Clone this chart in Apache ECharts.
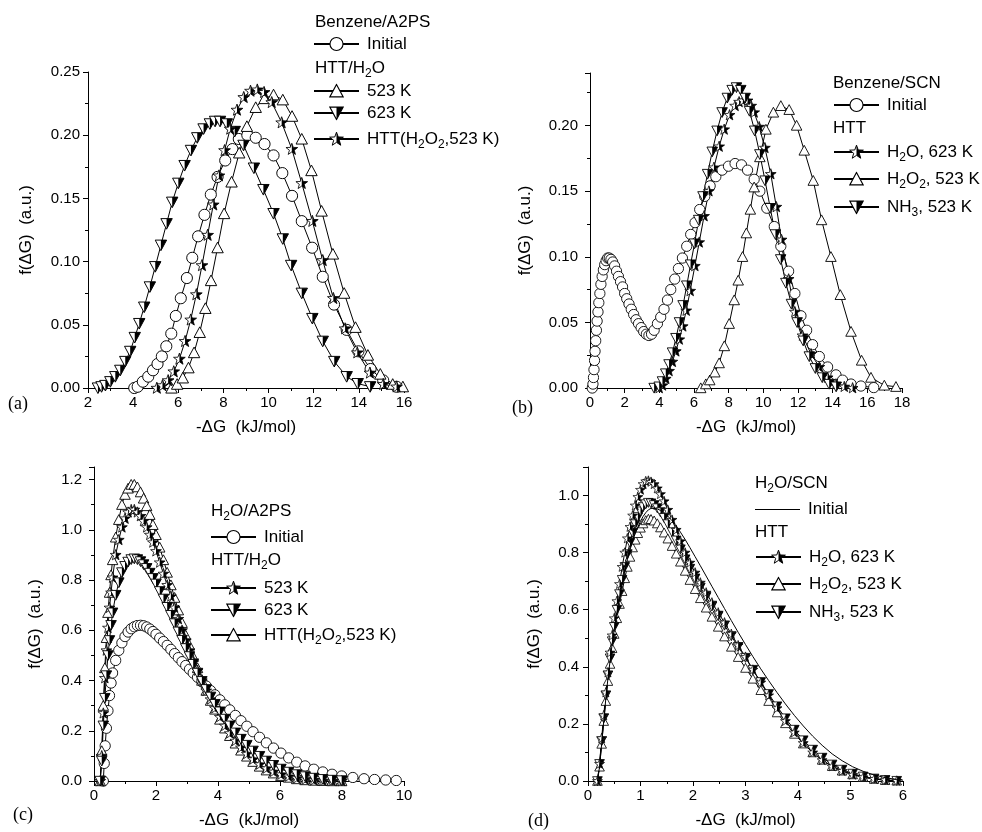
<!DOCTYPE html>
<html><head><meta charset="utf-8">
<script src="https://cdn.jsdelivr.net/npm/echarts@6.0.0/dist/echarts.min.js"></script>
<style>html,body{margin:0;padding:0;background:#fff}#c{width:982px;height:832px}</style>
</head><body><div id="c"></div>
<script>
// ---------- Panel (a): Benzene/A2PS ----------
const aInitialX = [4.05,4.20,4.43,4.67,4.88,5.08,5.27,5.47,5.69,5.89,6.11,6.38,6.62,6.88,7.16,7.44,7.74,8.08,8.40,8.68,9.06,9.43,9.82,10.22,10.61,11.04,11.47,11.93,12.40,12.90,13.46,13.98,14.52,15.08,15.67];
const aInitialY = [0.000,0.001,0.005,0.009,0.014,0.019,0.025,0.033,0.043,0.057,0.071,0.087,0.103,0.120,0.137,0.153,0.167,0.180,0.189,0.197,0.200,0.198,0.193,0.184,0.170,0.152,0.132,0.111,0.088,0.066,0.046,0.029,0.015,0.006,0.001];
const a523X = [5.70,5.95,6.20,6.45,6.70,6.95,7.20,7.45,7.74,8.03,8.36,8.70,9.04,9.43,9.82,10.22,10.63,11.04,11.47,11.90,12.35,12.85,13.35,13.85,14.40,14.95,15.50,15.95];
const a523Y = [0.000,0.003,0.008,0.016,0.028,0.044,0.063,0.085,0.111,0.138,0.163,0.186,0.207,0.222,0.229,0.232,0.228,0.215,0.197,0.172,0.140,0.106,0.075,0.048,0.026,0.011,0.003,0.001];
const a623X = [2.44,2.60,2.77,2.99,3.21,3.43,3.65,3.87,4.07,4.27,4.49,4.74,4.98,5.23,5.48,5.73,6.00,6.28,6.56,6.84,7.12,7.40,7.63,7.85,8.15,8.50,8.89,9.35,9.77,10.22,10.63,11.00,11.47,11.94,12.40,12.91,13.46,13.95,14.50];
const a623Y = [0.000,0.001,0.002,0.005,0.009,0.014,0.021,0.029,0.040,0.051,0.064,0.080,0.096,0.113,0.130,0.147,0.162,0.176,0.188,0.198,0.205,0.209,0.211,0.211,0.209,0.203,0.192,0.174,0.157,0.138,0.118,0.097,0.075,0.055,0.037,0.021,0.009,0.0035,0.001];
const aHttX = [5.05,5.30,5.55,5.80,6.05,6.30,6.55,6.80,7.05,7.30,7.55,7.80,8.05,8.30,8.60,8.90,9.20,9.50,9.80,10.14,10.58,11.03,11.47,11.94,12.40,12.87,13.39,13.93,14.49,15.08,15.67];
const aHttY = [0.000,0.002,0.006,0.013,0.023,0.037,0.054,0.074,0.097,0.121,0.145,0.168,0.188,0.205,0.220,0.230,0.235,0.236,0.234,0.226,0.210,0.189,0.162,0.132,0.101,0.071,0.047,0.028,0.012,0.003,0.001];

// ---------- Panel (b): Benzene/SCN ----------
const bInitialX = [0.13,0.17,0.20,0.23,0.26,0.29,0.33,0.37,0.41,0.46,0.51,0.57,0.63,0.70,0.77,0.85,0.93,1.02,1.11,1.21,1.31,1.42,1.53,1.64,1.76,1.88,2.00,2.12,2.25,2.38,2.52,2.66,2.80,2.95,3.10,3.25,3.40,3.55,3.70,3.89,4.08,4.27,4.47,4.66,4.89,5.10,5.33,5.58,5.81,6.06,6.33,6.62,6.93,7.26,7.62,7.99,8.37,8.74,9.09,9.47,9.80,10.20,10.63,11.01,11.46,11.82,12.17,12.50,12.84,13.23,13.71,14.19,14.57,15.06,15.63,16.37];
const bInitialY = [0.000,0.003,0.008,0.014,0.021,0.028,0.036,0.044,0.051,0.058,0.065,0.072,0.079,0.085,0.090,0.094,0.097,0.099,0.099,0.098,0.096,0.093,0.089,0.085,0.081,0.077,0.072,0.068,0.064,0.060,0.056,0.052,0.049,0.046,0.043,0.041,0.040,0.041,0.044,0.049,0.054,0.060,0.067,0.075,0.083,0.091,0.099,0.108,0.117,0.126,0.136,0.146,0.154,0.161,0.166,0.169,0.171,0.170,0.166,0.159,0.150,0.137,0.123,0.108,0.089,0.072,0.055,0.044,0.033,0.024,0.016,0.010,0.006,0.003,0.0015,0.0003];
const bH2OX = [3.99,4.18,4.37,4.56,4.75,4.95,5.15,5.35,5.55,5.78,6.05,6.30,6.58,6.86,7.15,7.45,7.74,8.05,8.37,8.60,8.82,9.09,9.30,9.47,9.76,10.09,10.43,10.75,11.05,11.46,11.82,12.26,12.75,13.23,13.71,14.19,14.67,15.15];
const bH2OY = [0.000,0.002,0.007,0.013,0.020,0.028,0.037,0.047,0.059,0.074,0.093,0.111,0.131,0.150,0.168,0.184,0.197,0.208,0.215,0.218,0.219,0.219,0.215,0.210,0.199,0.183,0.163,0.138,0.113,0.083,0.058,0.040,0.026,0.016,0.008,0.003,0.001,0.000];
const bH2O2X = [6.39,6.68,6.91,7.20,7.45,7.75,8.03,8.32,8.55,8.80,9.02,9.25,9.47,9.80,10.15,10.58,11.01,11.49,11.92,12.36,12.88,13.36,13.90,14.44,15.06,15.67,16.21,16.98,17.65];
const bH2O2Y = [0.000,0.003,0.006,0.012,0.019,0.032,0.049,0.067,0.082,0.100,0.118,0.136,0.153,0.176,0.197,0.210,0.215,0.212,0.200,0.181,0.158,0.128,0.100,0.071,0.043,0.021,0.008,0.002,0.001];
const bNH3X = [3.70,3.99,4.18,4.37,4.56,4.76,4.96,5.16,5.37,5.58,5.80,6.03,6.27,6.52,6.78,7.05,7.33,7.62,7.92,8.20,8.45,8.70,8.95,9.20,9.50,9.80,10.10,10.40,10.70,11.00,11.30,11.62,11.95,12.30,12.65,13.00,13.40,13.80,14.20];
const bNH3Y = [0.000,0.001,0.005,0.011,0.018,0.027,0.038,0.050,0.063,0.078,0.094,0.110,0.128,0.146,0.163,0.180,0.196,0.210,0.221,0.227,0.229,0.227,0.221,0.211,0.196,0.178,0.158,0.137,0.117,0.098,0.080,0.064,0.050,0.036,0.024,0.015,0.008,0.003,0.001];

// ---------- Panel (c): H2O/A2PS ----------
const cInitialX = [0.30,0.33,0.36,0.40,0.45,0.50,0.55,0.60,0.70,0.80,0.90,1.00,1.10,1.20,1.30,1.40,1.50,1.60,1.70,1.80,1.90,2.00,2.12,2.24,2.36,2.48,2.60,2.72,2.84,2.96,3.08,3.20,3.34,3.48,3.62,3.76,3.90,4.06,4.22,4.38,4.56,4.74,4.93,5.13,5.34,5.56,5.79,6.03,6.28,6.54,6.81,7.09,7.38,7.68,7.99,8.35,8.71,9.05,9.41,9.75];
const cInitialY = [0.000,0.07,0.14,0.21,0.28,0.34,0.39,0.43,0.48,0.52,0.55,0.575,0.593,0.606,0.614,0.619,0.620,0.618,0.613,0.605,0.595,0.584,0.569,0.555,0.540,0.524,0.507,0.491,0.475,0.460,0.445,0.430,0.413,0.395,0.378,0.360,0.343,0.323,0.303,0.283,0.261,0.240,0.218,0.196,0.174,0.152,0.131,0.111,0.092,0.075,0.060,0.047,0.036,0.027,0.020,0.014,0.009,0.006,0.004,0.002];
const cX = [0.20,0.25,0.30,0.35,0.40,0.45,0.50,0.55,0.60,0.70,0.80,0.90,1.00,1.10,1.20,1.30,1.40,1.50,1.60,1.70,1.80,1.90,2.00,2.12,2.24,2.36,2.48,2.60,2.72,2.84,2.96,3.08,3.20,3.34,3.48,3.62,3.76,3.90,4.06,4.22,4.38,4.56,4.74,4.93,5.13,5.34,5.56,5.79,6.03,6.28,6.54,6.81,7.09,7.38,7.68,7.99];
const c523Y = [0,0.10,0.27,0.41,0.52,0.61,0.69,0.75,0.81,0.90,0.96,1.01,1.045,1.07,1.08,1.08,1.07,1.055,1.035,1.01,0.98,0.95,0.915,0.87,0.825,0.78,0.735,0.69,0.645,0.60,0.56,0.52,0.48,0.44,0.40,0.36,0.325,0.29,0.255,0.22,0.19,0.16,0.133,0.108,0.086,0.066,0.05,0.037,0.026,0.018,0.011,0.006,0.003,0.001,0.0005,0];
const c623Y = [0,0.08,0.22,0.33,0.42,0.50,0.56,0.62,0.67,0.74,0.79,0.83,0.855,0.872,0.882,0.885,0.882,0.874,0.862,0.847,0.828,0.807,0.785,0.755,0.725,0.692,0.66,0.627,0.594,0.561,0.528,0.496,0.465,0.43,0.397,0.365,0.335,0.306,0.276,0.247,0.22,0.192,0.167,0.143,0.12,0.099,0.08,0.063,0.048,0.036,0.026,0.018,0.012,0.007,0.004,0.002];
const cHttY = [0,0.12,0.30,0.45,0.57,0.67,0.75,0.82,0.88,0.97,1.04,1.10,1.14,1.165,1.18,1.18,1.17,1.15,1.125,1.095,1.06,1.02,0.98,0.93,0.88,0.83,0.78,0.73,0.68,0.63,0.58,0.54,0.495,0.45,0.40,0.36,0.32,0.285,0.245,0.21,0.18,0.15,0.122,0.098,0.077,0.058,0.043,0.031,0.021,0.014,0.008,0.004,0.002,0.001,0,0];

// ---------- Panel (d): H2O/SCN ----------
const dX = [0.18,0.22,0.26,0.30,0.34,0.38,0.42,0.46,0.50,0.55,0.60,0.65,0.70,0.75,0.80,0.85,0.90,0.95,1.00,1.05,1.10,1.15,1.20,1.26,1.32,1.38,1.45,1.52,1.60,1.68,1.76,1.85,1.94,2.04,2.14,2.25,2.36,2.48,2.60,2.73,2.86,3.00,3.14,3.29,3.44,3.60,3.76,3.93,4.10,4.28,4.46,4.65,4.84,5.04,5.24,5.45,5.66,5.88];
const dInitialX = [0.18,0.22,0.26,0.30,0.34,0.38,0.42,0.46,0.50,0.55,0.60,0.65,0.70,0.75,0.80,0.85,0.90,0.95,1.00,1.05,1.10,1.15,1.20,1.26,1.32,1.38,1.45,1.52,1.60,1.68,1.76,1.85,1.94,2.04,2.14,2.25,2.36,2.48,2.60,2.73,2.86,3.00,3.14,3.29,3.44,3.60,3.76,3.93,4.10,4.28,4.46,4.65,4.84,5.04,5.24,5.45,5.66,5.88,6.00];
const dInitialY = [0,0.05,0.13,0.21,0.29,0.36,0.42,0.48,0.53,0.59,0.64,0.69,0.735,0.775,0.81,0.84,0.868,0.89,0.91,0.927,0.94,0.95,0.955,0.955,0.953,0.948,0.94,0.928,0.912,0.893,0.872,0.846,0.818,0.786,0.754,0.718,0.682,0.643,0.604,0.562,0.521,0.478,0.436,0.393,0.352,0.31,0.27,0.23,0.193,0.157,0.125,0.095,0.071,0.05,0.034,0.021,0.012,0.005,0.003];
const dH2OY = [0,0.06,0.15,0.23,0.31,0.38,0.45,0.51,0.57,0.63,0.69,0.75,0.80,0.85,0.89,0.93,0.965,0.995,1.02,1.04,1.05,1.052,1.048,1.04,1.025,1.005,0.98,0.95,0.915,0.88,0.84,0.80,0.765,0.73,0.695,0.66,0.625,0.59,0.555,0.515,0.475,0.435,0.39,0.345,0.30,0.255,0.21,0.17,0.133,0.10,0.073,0.051,0.035,0.022,0.013,0.007,0.003,0.001];
const dH2O2Y = [0,0.05,0.13,0.21,0.28,0.35,0.41,0.465,0.515,0.57,0.62,0.665,0.71,0.75,0.785,0.818,0.845,0.868,0.887,0.902,0.913,0.918,0.917,0.912,0.902,0.888,0.87,0.849,0.823,0.796,0.768,0.736,0.704,0.672,0.64,0.607,0.575,0.54,0.506,0.47,0.434,0.396,0.358,0.318,0.28,0.24,0.202,0.165,0.131,0.10,0.074,0.052,0.036,0.023,0.014,0.007,0.003,0.001];
const dNH3Y = [0,0.06,0.14,0.22,0.30,0.37,0.43,0.49,0.54,0.60,0.655,0.705,0.75,0.795,0.835,0.87,0.90,0.925,0.945,0.96,0.97,0.975,0.973,0.967,0.956,0.942,0.922,0.90,0.872,0.843,0.812,0.777,0.744,0.71,0.678,0.645,0.612,0.578,0.545,0.508,0.47,0.432,0.39,0.347,0.305,0.262,0.22,0.18,0.143,0.11,0.082,0.058,0.04,0.026,0.016,0.009,0.004,0.001];

// ---------- text ----------
const xAxisTitle = '-ΔG  (kJ/mol)';
const yAxisTitle = 'f(ΔG)  (a.u.)';
const panelLabels = ['(a)', '(b)', '(c)', '(d)'];
const LABELS = {
  'a-Initial':'{f|Initial}', 'a-523':'{f|523 K}', 'a-623':'{f|623 K}', 'a-HTT':'{f|HTT(H}{s|2}{n|O}{s|2}{n|,523 K)}',
  'b-Initial':'{f|Initial}', 'b-H2O':'{f|H}{s|2}{n|O, 623 K}', 'b-H2O2':'{f|H}{s|2}{n|O}{s|2}{n|, 523 K}', 'b-NH3':'{f|NH}{s|3}{n|, 523 K}',
  'c-Initial':'{f|Initial}', 'c-523':'{f|523 K}', 'c-623':'{f|623 K}', 'c-HTT':'{f|HTT(H}{s|2}{n|O}{s|2}{n|,523 K)}',
  'd-Initial':'{f|Initial}', 'd-H2O':'{f|H}{s|2}{n|O, 623 K}', 'd-H2O2':'{f|H}{s|2}{n|O}{s|2}{n|, 523 K}', 'd-NH3':'{f|NH}{s|3}{n|, 523 K}'
};

const FONT = '"Liberation Sans", Arial, sans-serif';
const RICH = {
  n: {fontSize:17, fontFamily:FONT, color:'#000', lineHeight:19},
  f: {fontSize:17, fontFamily:FONT, color:'#000', lineHeight:19, padding:[0,0,0,3]},
  s: {fontSize:12, fontFamily:FONT, color:'#000', lineHeight:19, padding:[11,0,0,0]}
};

function svgSym(inner){
  return 'image://data:image/svg+xml;charset=utf-8,' + encodeURIComponent(
    "<svg xmlns='http://www.w3.org/2000/svg' width='40' height='40' viewBox='0 0 20 20'>" + inner + "</svg>");
}
const SYM = {
  circle: svgSym("<circle cx='10' cy='10' r='8.6' fill='white' stroke='black' stroke-width='1.5'/>"),
  up: svgSym("<polygon points='10,1.5 18.8,17.8 1.2,17.8' fill='white' stroke='black' stroke-width='1.5'/>"),
  down: svgSym("<polygon points='1.2,2.2 18.8,2.2 10,18.5' fill='white' stroke='black' stroke-width='1.5'/><polygon points='10,2.2 18.8,2.2 10,18.5' fill='black'/>"),
  star: svgSym("<polygon points='10,1 12.29,7.34 19.04,7.56 13.71,11.71 15.58,18.19 10,14.4 4.42,18.19 6.29,11.71 0.96,7.56 7.71,7.34' fill='white' stroke='black' stroke-width='1.3'/><polygon points='10,1 12.29,7.34 19.04,7.56 13.71,11.71 15.58,18.19 10,14.4' fill='black'/>")
};

function zip(xs, ys){ return xs.map((x,i)=>[x, ys[i]]); }
function ser(name, gi, xs, ys, sym, size, z){
  return {type:'line', name, xAxisIndex:gi, yAxisIndex:gi, data:zip(xs,ys),
    symbol:sym, symbolSize:size, showSymbol:sym!=='none', showAllSymbol:true, smooth:false,
    color:'#000', lineStyle:{color:'#000', width:1}, itemStyle:{color:'#000'},
    silent:true, animation:false, z:z||2};
}

const grids = [
  {left:88, top:72, width:316, height:316},
  {left:590, top:73, width:312, height:315},
  {left:94, top:467, width:310, height:314},
  {left:588, top:467, width:315, height:314}
];
const xCfg = [
  {min:2, max:16, interval:2}, {min:0, max:18, interval:2},
  {min:0, max:10, interval:2}, {min:0, max:6, interval:1}
];
const yCfg = [
  {min:0, max:0.25, interval:0.05, dec:2, margin:8, gap:53, showMax:true},
  {min:0, max:0.24, interval:0.05, dec:2, margin:12, gap:56, showMax:false},
  {min:0, max:1.25, interval:0.2, dec:1, margin:12, gap:50, showMax:false},
  {min:0, max:1.1, interval:0.2, dec:1, margin:9, gap:45, showMax:false}
];
const AX_LINE = {onZero:false, lineStyle:{color:'#000', width:1}};
const AX_TICK = {show:true, inside:false, length:5, lineStyle:{color:'#000', width:1}};
const MINOR = {show:true, splitNumber:2, length:3, lineStyle:{color:'#000', width:1}};
const NAME_STYLE = {fontSize:17, fontFamily:FONT, color:'#000'};

const xAxes = xCfg.map((c,i)=>({type:'value', gridIndex:i, min:c.min, max:c.max, interval:c.interval,
  name:xAxisTitle, nameLocation:'middle', nameGap:31, nameTextStyle:NAME_STYLE,
  axisLine:AX_LINE, axisTick:AX_TICK, minorTick:MINOR, splitLine:{show:false},
  axisLabel:{fontSize:15, fontFamily:FONT, color:'#000', margin:7}}));
const yAxes = yCfg.map((c,i)=>({type:'value', gridIndex:i, min:c.min, max:c.max, interval:c.interval,
  name:yAxisTitle, nameLocation:'middle', nameRotate:90, nameGap:c.gap, nameTextStyle:NAME_STYLE,
  axisLine:AX_LINE, axisTick:AX_TICK, minorTick:MINOR, splitLine:{show:false},
  axisLabel:{fontSize:15, fontFamily:FONT, color:'#000', margin:c.margin, showMaxLabel:c.showMax,
    formatter:v=>v.toFixed(c.dec)}}));

const series = [
  ser('a-Initial',0,aInitialX,aInitialY,SYM.circle,13),
  ser('a-523',0,a523X,a523Y,SYM.up,13),
  ser('a-623',0,a623X,a623Y,SYM.down,13),
  ser('a-HTT',0,aHttX,aHttY,SYM.star,13),
  ser('b-Initial',1,bInitialX,bInitialY,SYM.circle,12),
  ser('b-H2O',1,bH2OX,bH2OY,SYM.star,12),
  ser('b-H2O2',1,bH2O2X,bH2O2Y,SYM.up,12),
  ser('b-NH3',1,bNH3X,bNH3Y,SYM.down,12),
  ser('c-Initial',2,cInitialX,cInitialY,SYM.circle,12),
  ser('c-HTT',2,cX,cHttY,SYM.up,12),
  ser('c-523',2,cX,c523Y,SYM.star,12),
  ser('c-623',2,cX,c623Y,SYM.down,12),
  ser('d-H2O2',3,dX,dH2O2Y,SYM.up,11),
  ser('d-NH3',3,dX,dNH3Y,SYM.down,11),
  ser('d-H2O',3,dX,dH2OY,SYM.star,11),
  ser('d-Initial',3,dInitialX,dInitialY,'none',0,5)
];

function leg(name, left, cy, lineOnly){
  const h = lineOnly ? 1 : 19;
  return {data:[lineOnly ? {name, icon:'rect'} : name], left, top: lineOnly ? cy - 9 : cy - 9.5, orient:'vertical', padding:0,
    itemWidth:45, itemHeight:h, itemGap:0, selectedMode:false,
    formatter: n => LABELS[n], textStyle:{fontSize:17, fontFamily:FONT, color:'#000', rich:RICH}};
}
const legends = [
  leg('a-Initial',313,45), leg('a-523',313,92), leg('a-623',313,114), leg('a-HTT',313,137),
  leg('b-Initial',833,106), leg('b-H2O',833,150), leg('b-H2O2',833,177), leg('b-NH3',833,205),
  leg('c-Initial',210,538), leg('c-523',210,589), leg('c-623',210,611), leg('c-HTT',210,633),
  leg('d-Initial',755,510,true), leg('d-H2O',755,555), leg('d-H2O2',755,582), leg('d-NH3',755,610)
];

function txt(x, y, text, serif){
  return {type:'text', x, y, silent:true, style:{text, rich:RICH, fill:'#000', verticalAlign:'middle', align:'left',
    font: serif ? '18px "Liberation Serif", "Times New Roman", serif' : '17px ' + FONT}};
}
const graphics = [
  txt(315,22,'Benzene/A2PS'), txt(315,68,'{n|HTT/H}{s|2}{n|O}'),
  txt(833,83,'Benzene/SCN'), txt(833,128,'HTT'),
  txt(211,511,'{n|H}{s|2}{n|O/A2PS}'), txt(211,560,'{n|HTT/H}{s|2}{n|O}'),
  txt(755,483,'{n|H}{s|2}{n|O/SCN}'), txt(755,532,'HTT'),
  txt(8,404,panelLabels[0],true), txt(512,408,panelLabels[1],true),
  txt(13,815,panelLabels[2],true), txt(528,821,panelLabels[3],true)
];

const chart = echarts.init(document.getElementById('c'), null, {renderer:'canvas'});
chart.setOption({
  animation:false, backgroundColor:'#fff',
  grid:grids, xAxis:xAxes, yAxis:yAxes, series, legend:legends, graphic:graphics
});
</script></body></html>
